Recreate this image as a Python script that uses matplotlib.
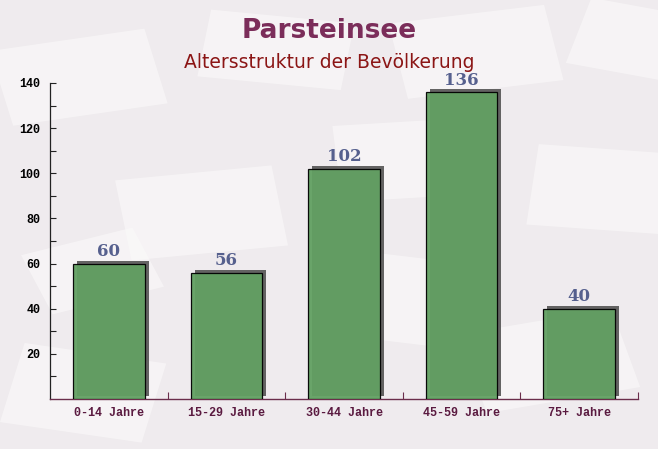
import matplotlib
matplotlib.use("Agg")
import matplotlib.pyplot as plt
import matplotlib.transforms as mtransforms
from matplotlib.patches import Rectangle

categories = ["0-14 Jahre", "15-29 Jahre", "30-44 Jahre", "45-59 Jahre", "75+ Jahre"]
values = [60, 56, 102, 136, 40]
y_ticks = [20, 40, 60, 80, 100, 120, 140]
title = "Parsteinsee"
subtitle = "Altersstruktur der Bevölkerung"

fig = plt.figure(figsize=(6.58, 4.49), dpi=100)
fig.patch.set_facecolor("#efebee")

# decorative background envelopes
env = [(0.02, 0.72, 0.24, 0.17, 12), (0.30, 0.83, 0.22, 0.15, -8), (0.62, 0.78, 0.24, 0.17, 10),
       (0.80, 0.50, 0.24, 0.18, -6), (0.20, 0.42, 0.24, 0.18, 8), (0.48, 0.26, 0.24, 0.19, -10),
       (0.74, 0.08, 0.24, 0.18, 14), (0.00, 0.06, 0.22, 0.18, -12), (0.52, 0.55, 0.22, 0.17, 5),
       (0.86, 0.86, 0.20, 0.15, -15), (0.08, 0.30, 0.18, 0.14, 20)]
for (x, y, w, h, a) in env:
    r = Rectangle((x, y), w, h, angle=a, transform=fig.transFigure, facecolor="#fbfafa",
                  alpha=0.6, edgecolor="none", zorder=-5)
    fig.add_artist(r)

ax = fig.add_axes([50/658, 1-399/449, 588/658, 316/449], zorder=2)
ax.set_facecolor("none")
x = list(range(len(categories)))

shadow_tr = ax.transData + mtransforms.ScaledTranslation(4/100, 3/100, fig.dpi_scale_trans)
ax.bar(x, values, width=0.61, color="#4a4a4a", alpha=0.85, transform=shadow_tr, zorder=2)
ax.bar(x, values, width=0.61, color="#62a062", alpha=0.95, edgecolor="black", linewidth=0.9, zorder=3)

for xi, v in zip(x, values):
    ax.annotate(str(v), (xi, v), xytext=(0, 2.5), textcoords="offset points", ha="center", va="bottom",
                fontsize=12, fontweight="bold", family="DejaVu Serif", color="#56608e", zorder=4)

ax.set_xlim(-0.5, len(categories) - 0.5)
ax.set_ylim(0, 140)
ax.set_yticks(y_ticks)
ax.set_yticks(range(10, 141, 20), minor=True)
ax.set_yticklabels([str(t) for t in y_ticks], family="Liberation Mono", fontweight="bold", fontsize=8.5, color="#000000")
ax.tick_params(axis="y", which="both", direction="in", length=4, width=0.8, pad=7, color="#222222")

ax.set_xticks([i + 0.5 for i in x])
ax.set_xticks(x, minor=True)
ax.set_xticklabels([])
ax.set_xticklabels(categories, minor=True, family="Liberation Mono", fontweight="bold", fontsize=8.5, color="#5a1a40")
ax.tick_params(axis="x", which="major", direction="in", length=5, width=0.8, color="#6b2d4b")
ax.tick_params(axis="x", which="minor", length=0, pad=6)

for s in ["top", "right"]:
    ax.spines[s].set_visible(False)
ax.spines["left"].set_color("#222222")
ax.spines["bottom"].set_color("#6b2d4b")
ax.spines["bottom"].set_linewidth(1.0)
ax.spines["left"].set_linewidth(0.9)

fig.text(0.5, 1-31/449, title, ha="center", va="center", fontsize=19, fontweight="bold",
         color="#7b2d5a", family="DejaVu Sans")
fig.text(0.5, 1-62/449, subtitle, ha="center", va="center", fontsize=13.5,
         color="#8b1515", family="DejaVu Sans")

fig.savefig("out.png", dpi=100, facecolor=fig.get_facecolor())
